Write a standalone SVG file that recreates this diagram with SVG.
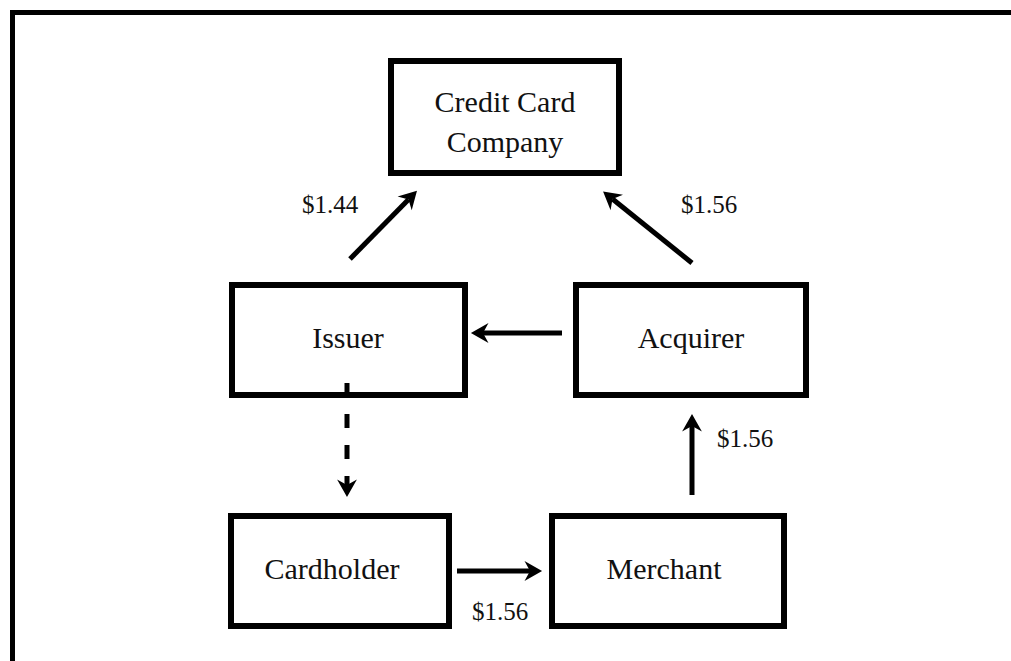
<svg xmlns="http://www.w3.org/2000/svg" width="1011" height="661" viewBox="0 0 1011 661">
  <style>
    .box { fill: #fff; stroke: #000; stroke-width: 6; }
    .label { font-family: "Liberation Serif", "Times New Roman", serif; font-size: 30px; fill: #111; text-anchor: middle; }
    .amt { font-family: "Liberation Serif", "Times New Roman", serif; font-size: 25px; fill: #111; }
    .edge { stroke: #000; stroke-width: 5; fill: none; marker-end: url(#head); }
    .dash { stroke-dasharray: 14 17; }
  </style>
  <defs>
    <marker id="head" markerUnits="userSpaceOnUse" markerWidth="20" markerHeight="22" viewBox="0 0 16 20" refX="5" refY="10" orient="auto">
      <path d="M0,1 L16,10 L0,19 L5,10 Z" fill="#000"/>
    </marker>
  </defs>

  <!-- frame -->
  <path d="M12.5,661 V12.5 H1011" fill="none" stroke="#000" stroke-width="5"/>

  <g id="node-credit-card-company">
    <rect class="box" x="391" y="61" width="228" height="112"/>
    <text class="label" x="505" y="112">Credit Card</text>
    <text class="label" x="505" y="152">Company</text>
  </g>
  <g id="node-issuer">
    <rect class="box" x="232" y="285" width="233" height="110"/>
    <text class="label" x="348" y="348">Issuer</text>
  </g>
  <g id="node-acquirer">
    <rect class="box" x="576" y="285" width="230" height="110"/>
    <text class="label" x="691" y="348">Acquirer</text>
  </g>
  <g id="node-cardholder">
    <rect class="box" x="231" y="516" width="218" height="110"/>
    <text class="label" x="332" y="579">Cardholder</text>
  </g>
  <g id="node-merchant">
    <rect class="box" x="552" y="516" width="232" height="110"/>
    <text class="label" x="664" y="579">Merchant</text>
  </g>

  <g id="connectors">
    <line class="edge" x1="350" y1="259" x2="408.5" y2="199.5"/>
    <line class="edge" x1="692" y1="263" x2="612.5" y2="199"/>
    <line class="edge" x1="562" y1="333" x2="483" y2="333"/>
    <line class="edge dash" x1="347" y1="383" x2="347" y2="485"/>
    <line class="edge" x1="457" y1="571" x2="530" y2="571"/>
    <line class="edge" x1="692" y1="495" x2="692" y2="426"/>
    <text class="amt" x="302" y="213">$1.44</text>
    <text class="amt" x="681" y="213">$1.56</text>
    <text class="amt" x="717" y="447">$1.56</text>
    <text class="amt" x="472" y="620">$1.56</text>
  </g>
</svg>
